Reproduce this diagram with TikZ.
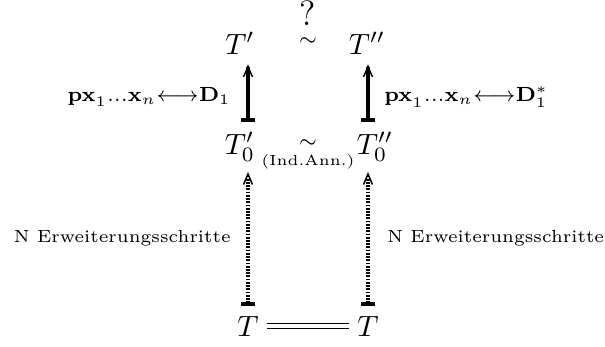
\documentclass[tikz,border=0pt]{standalone}
\usetikzlibrary{arrows.meta}
\begin{document}
\begin{tikzpicture}[x=0.3413pt,y=-0.3413pt,
  obj/.style={font=\normalsize},
  lab/.style={font=\fontsize{6}{7}\selectfont},
  imp/.style={line width=1.3pt,{Bar[width=4.8pt,line width=1.2pt]}-{Straight Barb[length=3.6pt,width=3pt,line width=0.5pt]}},
  ext/.style={imp,dash pattern=on 0.6pt off 0.5pt}]
\useasboundingbox (0,0) rectangle (605,346);
% objects
\node[obj] (Tl) at (240,43) {$T'$};
\node[obj] (Tr) at (367,43) {$T''$};
\node[obj] (T0l) at (240,147) {$T_0'$};
\node[obj] (T0r) at (375,147) {$T_0''$};
\node[obj] (Tbl) at (248,326) {$T$};
\node[obj] (Tbr) at (368,326) {$T$};
% relations between the columns
\node[font=\large,inner sep=0pt] (qm) at (308,13) {?};
\node[font=\scriptsize,inner sep=0pt] (simtop) at (308,42) {$\sim$};
\node[font=\scriptsize] (simmid) at (308,144) {$\sim$};
\node[font=\tiny] (indann) at (308,162) {(Ind.Ann.)};
\draw[double,double distance=1.1pt,line width=0.5pt,shorten <=-0.8pt,shorten >=-0.8pt] (Tbl) -- (Tbr);
% arrows
\draw[imp] (T0l.north -| Tbl) -- (Tl.south -| Tbl);
\draw[imp] (T0r.north -| Tbr) -- (Tr.south -| Tbr);
\draw[ext] (Tbl.north) -- (T0l.south -| Tbl);
\draw[ext] (Tbr.north) -- (T0r.south -| Tbr);
% labels
\node[font=\normalsize,anchor=east] (pxl) at (241,97) {$\scriptstyle\mathbf{px}_1{\ldots}\mathbf{x}_n\longleftrightarrow\mathbf{D}_1$};
\node[font=\normalsize,anchor=west] (pxr) at (374,97) {$\scriptstyle\mathbf{px}_1{\ldots}\mathbf{x}_n\longleftrightarrow\mathbf{D}_1^*$};
\node[lab,anchor=east] (nl) at (241,238) {N Erweiterungsschritte};
\node[lab,anchor=west] (nr) at (377,238) {N Erweiterungsschritte};
\end{tikzpicture}
\end{document}
